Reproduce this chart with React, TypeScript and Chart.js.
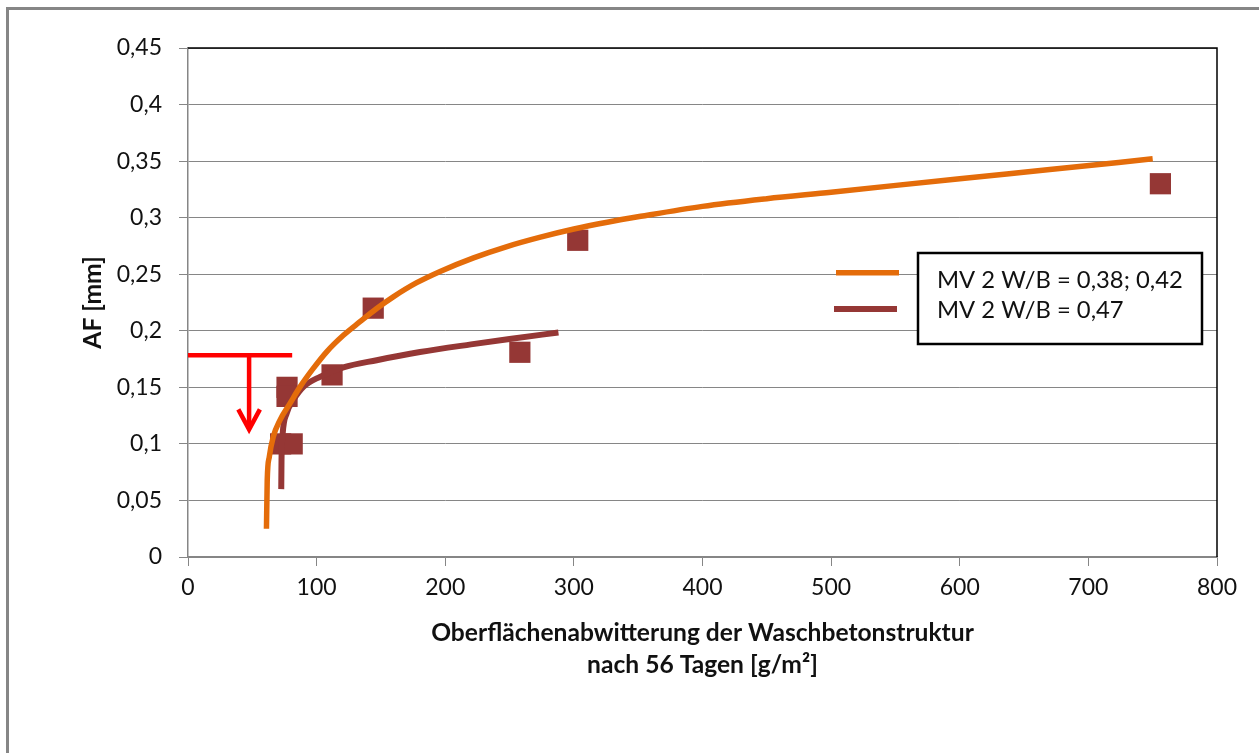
import React, { useEffect, useRef } from "react";
import { Chart, registerables } from "chart.js";

Chart.register(...registerables);

// ---------- data ----------
const xTickValues = [0, 100, 200, 300, 400, 500, 600, 700, 800];
const yTickValues = [0, 0.05, 0.1, 0.15, 0.2, 0.25, 0.3, 0.35, 0.4, 0.45];

const seriesLabels = ["MV 2 W/B = 0,38; 0,42", "MV 2 W/B = 0,47"];
const xAxisTitle = ["Oberflächenabwitterung der Waschbetonstruktur", "nach 56 Tagen [g/m²]"];
const yAxisTitle = "AF [mm]";

// measured points (squares)
const measuredX = [72, 81, 77, 77, 112, 144, 258, 303, 756];
const measuredY = [0.1, 0.1, 0.15, 0.142, 0.161, 0.22, 0.181, 0.28, 0.33];

// trend line MV 2 W/B = 0,38; 0,42 (orange)
const trendAX = [61.0, 61.6, 63.2, 66.3, 71.5, 79.3, 87.1, 97.4, 107.8, 120.8, 133.7, 146.7, 159.6, 177.8, 196, 222, 248, 274, 300, 326, 352, 400, 450, 500, 600, 670, 750];
const trendAY = [0.025, 0.068, 0.0886, 0.1063, 0.121, 0.1358, 0.1504, 0.1667, 0.1814, 0.196, 0.208, 0.2197, 0.23, 0.2425, 0.2525, 0.2645, 0.2745, 0.2828, 0.29, 0.296, 0.3012, 0.31, 0.3168, 0.3225, 0.3345, 0.3425, 0.352];

// trend line MV 2 W/B = 0,47 (dark red)
const trendBX = [72.5, 72.7, 73.6, 76.7, 81.9, 89.7, 102.6, 120.8, 146.7, 180.4, 220, 250, 288];
const trendBY = [0.06, 0.086, 0.109, 0.127, 0.1387, 0.1504, 0.1593, 0.1676, 0.174, 0.1812, 0.188, 0.1928, 0.1985];

// red limit marker with arrow
const limitX = [0, 81];
const limitY = [0.1784, 0.1784];
const arrowShaftX = [47.5, 47.5];
const arrowShaftY = [0.1784, 0.115];
const arrowHeadX = [39.1, 47.5, 55.9];
const arrowHeadY = [0.1305, 0.1128, 0.1305];

const ORANGE = "#E46C0A";
const DARKRED = "#953735";
const GRID = "#868686";
const FONT = "Lato";

const pts = (xs: number[], ys: number[]) => xs.map((x, i) => ({ x, y: ys[i] }));

const fmtY = (v: number) => (v === 0 ? "0" : String(Number(v.toFixed(2))).replace(".", ","));

const framePlugin = {
  id: "frame",
  beforeDraw(chart: any) {
    const ctx = chart.ctx;
    ctx.save();
    ctx.fillStyle = "#ffffff";
    ctx.fillRect(0, 0, chart.width, chart.height);
    ctx.strokeStyle = GRID;
    ctx.lineWidth = 3;
    ctx.strokeRect(7.5, 8.5, 3000, 3000);
    ctx.restore();
  },
  beforeDatasetsDraw(chart: any) {
    const { ctx, chartArea } = chart;
    ctx.save();
    ctx.strokeStyle = "#000";
    ctx.lineWidth = 1.5;
    ctx.beginPath();
    ctx.moveTo(chartArea.left, chartArea.top);
    ctx.lineTo(chartArea.right, chartArea.top);
    ctx.lineTo(chartArea.right, chartArea.bottom);
    ctx.stroke();
    ctx.restore();
  },
};

const legendPlugin = {
  id: "boxLegend",
  afterDraw(chart: any) {
    const ctx = chart.ctx;
    const ds = chart.data.datasets;
    ctx.save();
    ctx.fillStyle = "#ffffff";
    ctx.fillRect(918, 253, 284, 91);
    ctx.strokeStyle = "#000";
    ctx.lineWidth = 2.5;
    ctx.strokeRect(918, 253, 284, 91);
    ctx.lineCap = "butt";
    const samples = [
      { x0: 836, x1: 899, y: 272.7, w: 5.5 },
      { x0: 834, x1: 897, y: 309, w: 6 },
    ];
    const textY = [288, 318];
    ctx.font = `23.8px ${FONT}`;
    ctx.textBaseline = "alphabetic";
    ctx.textAlign = "left";
    for (let i = 0; i < 2; i++) {
      const s = samples[i];
      ctx.strokeStyle = ds[i].borderColor;
      ctx.lineWidth = s.w;
      ctx.beginPath();
      ctx.moveTo(s.x0, s.y);
      ctx.lineTo(s.x1, s.y);
      ctx.stroke();
      ctx.fillStyle = "#111";
      ctx.fillText(ds[i].label, 937, textY[i]);
    }
    ctx.restore();
  },
};

export default function App() {
  const ref = useRef<HTMLCanvasElement | null>(null);

  useEffect(() => {
    if (!ref.current) return;
    const lineBase = {
      type: "scatter" as const,
      showLine: true,
      pointRadius: 0,
      pointHoverRadius: 0,
      fill: false,
      borderCapStyle: "butt" as const,
    };
    const chart = new Chart(ref.current, {
      type: "scatter",
      data: {
        datasets: [
          {
            ...lineBase,
            label: seriesLabels[0],
            data: pts(trendAX, trendAY),
            borderColor: ORANGE,
            backgroundColor: ORANGE,
            borderWidth: 5.5,
            cubicInterpolationMode: "monotone",
            order: 0,
          },
          {
            ...lineBase,
            label: seriesLabels[1],
            data: pts(trendBX, trendBY),
            borderColor: DARKRED,
            backgroundColor: DARKRED,
            borderWidth: 6,
            cubicInterpolationMode: "monotone",
            order: 1,
          },
          {
            type: "scatter",
            label: "Messwerte",
            data: pts(measuredX, measuredY),
            pointStyle: "rect",
            pointRadius: 15,
            pointHoverRadius: 15,
            backgroundColor: DARKRED,
            borderWidth: 0,
            order: 5,
          },
          {
            ...lineBase,
            label: "Grenzwert",
            data: pts(limitX, limitY),
            borderColor: "#FF0000",
            borderWidth: 4.5,
            order: 2,
          },
          {
            ...lineBase,
            label: "Pfeil",
            data: pts(arrowShaftX, arrowShaftY),
            borderColor: "#FF0000",
            borderWidth: 4.5,
            order: 2,
          },
          {
            ...lineBase,
            label: "Pfeilspitze",
            data: pts(arrowHeadX, arrowHeadY),
            borderColor: "#FF0000",
            borderWidth: 4.5,
            borderJoinStyle: "miter",
            order: 2,
          },
        ] as any,
      },
      options: {
        animation: false,
        responsive: false,
        devicePixelRatio: 1,
        events: [],
        layout: { padding: { left: 0, top: 48, right: 42, bottom: 72 } },
        plugins: {
          legend: { display: false },
          tooltip: { enabled: false },
          title: { display: false },
        },
        scales: {
          x: {
            type: "linear",
            min: 0,
            max: 800,
            afterBuildTicks: (s: any) => {
              s.ticks = xTickValues.map((v) => ({ value: v }));
            },
            afterFit: (s: any) => {
              s.height = 124;
            },
            grid: {
              display: true,
              drawOnChartArea: false,
              drawTicks: true,
              tickLength: 9,
              color: GRID,
              lineWidth: 1,
            },
            border: { display: true, color: GRID, width: 1.5 },
            ticks: {
              padding: 8,
              color: "#111",
              font: { family: FONT, size: 23 },
              maxRotation: 0,
              callback: (v: any) => String(v),
            },
            title: {
              display: true,
              text: xAxisTitle,
              color: "#111",
              font: { family: FONT, size: 24.6, weight: "bold", lineHeight: 1.3 },
              padding: { top: 0, bottom: 0 },
            },
          },
          y: {
            type: "linear",
            min: 0,
            max: 0.45,
            afterBuildTicks: (s: any) => {
              s.ticks = yTickValues.map((v) => ({ value: v }));
            },
            afterFit: (s: any) => {
              s.width = 188;
            },
            grid: {
              display: true,
              drawOnChartArea: true,
              drawTicks: true,
              tickLength: 9,
              color: GRID,
              lineWidth: 1,
            },
            border: { display: true, color: GRID, width: 1.5 },
            ticks: {
              padding: 17,
              color: "#111",
              font: { family: FONT, size: 23 },
              callback: (v: any) => fmtY(Number(v)),
            },
            title: {
              display: true,
              text: yAxisTitle,
              color: "#111",
              font: { family: FONT, size: 24.6, weight: "bold", lineHeight: 1.2 },
              padding: { top: 78, bottom: 0 },
            },
          },
        },
      } as any,
      plugins: [framePlugin, legendPlugin],
    });
    return () => chart.destroy();
  }, []);

  return (
    <div style={{ position: "fixed", left: 0, top: 0, width: 1259, height: 753 }}>
      <canvas ref={ref} width={1259} height={753} style={{ display: "block" }} />
    </div>
  );
}
